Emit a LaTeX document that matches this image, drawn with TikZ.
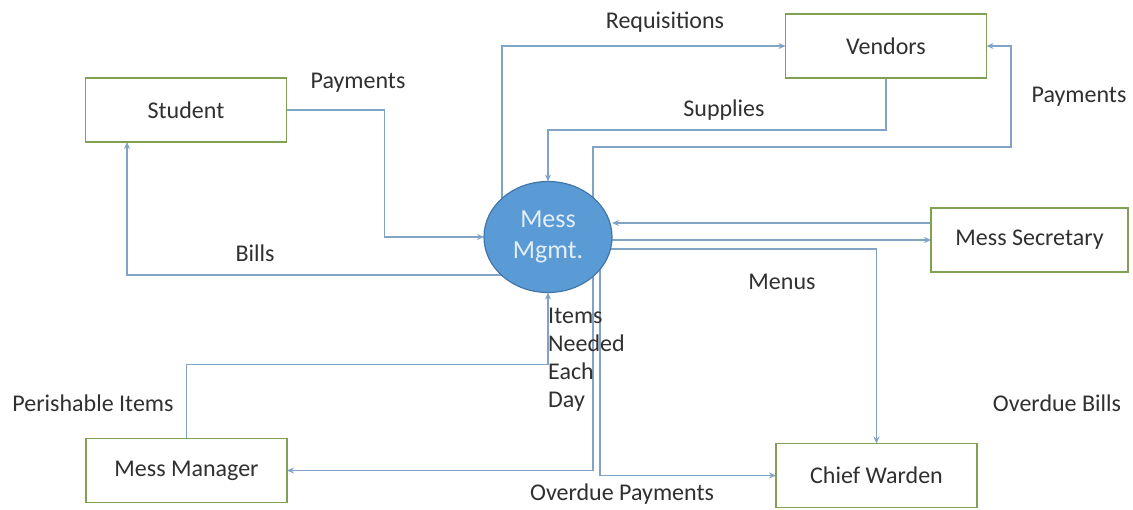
\documentclass[tikz,border=0pt]{standalone}
\usepackage{fontspec}
\setmainfont{Carlito}
\usetikzlibrary{positioning}
\usetikzlibrary{arrows.meta}
\usetikzlibrary{shapes.geometric}
\pgfdeclarelayer{background}
\pgfsetlayers{background,main}
\definecolor{boxline}{RGB}{128,160,82}
\definecolor{flowline}{RGB}{128,163,198}
\definecolor{ink}{RGB}{48,48,48}
\definecolor{procfill}{RGB}{91,155,213}
\definecolor{procline}{RGB}{66,118,168}
\tikzstyle{entitybox} = [draw=boxline, line width=1.4pt, minimum width=201pt, minimum height=64pt, inner sep=0pt, outer sep=0pt, text=ink]
\tikzstyle{flow} = [->, >={Stealth[length=7pt,width=6pt]}, draw=flowline, line width=1.8pt]
\tikzstyle{flowtext} = [text=ink, inner sep=0pt]

\begin{document}
\begin{tikzpicture}[x=1pt, y=-1pt, font=\fontsize{24}{28}\selectfont]
        \useasboundingbox (0,0) rectangle (1133,509);

        % the process in the middle
        \node[ellipse, fill=procfill, draw=procline, line width=1.2pt, minimum width=128pt, minimum height=111pt,
              inner sep=0pt, outer sep=0pt, align=center, text={rgb,255:red,228;green,238;blue,248},
              font=\fontsize{26}{31}\selectfont] (mess) at (548,237) {Mess\\Mgmt.};

        % external entities
        \node[entitybox] (student) at (186,110) {Student};
        \node[entitybox] (vendors) at (886,46) {Vendors};
        \node[entitybox, minimum width=197pt] (secretary) at (1029.5,240) {Mess Secretary};
        \node[entitybox] (manager) at (186.5,470.5) {Mess Manager};
        \node[entitybox] (warden) at (876.5,475.5) {Chief Warden};

        % flow names
        \node[flowtext] (requisitions) at (665,22) {Requisitions};
        \node[flowtext] (supplies) at (724,110) {Supplies};
        \node[flowtext] (vendorpay) at (1079,97) {Payments};
        \node[flowtext] (studentpay) at (358,83) {Payments};
        \node[flowtext] (bills) at (255,253) {Bills};
        \node[flowtext] (menus) at (782,282) {Menus};
        \node[flowtext] (overduebills) at (1057,403) {Overdue Bills};
        \node[flowtext] (perishable) at (93,403) {Perishable Items};
        \node[flowtext] (overduepay) at (622,494) {Overdue Payments};
        \node[flowtext, align=left, anchor=north west] (itemsneeded) at (548,308) {Items\\Needed\\Each\\Day};

        \begin{pgfonlayer}{background}
            \fill[white] (0,0) rectangle (1133,509);
            \draw[flow] ([xshift=-46pt]mess.center) |- (vendors.west);
            \draw[flow] (vendors.south) -- ++(0,52) -| (mess.north);
            \coordinate (payturn) at (1011,147);
            \draw[flow] ([xshift=45pt]mess.center) |- (payturn) |- (vendors.east);
            \draw[flow] (student.east) -- ++(98,0) |- (mess.west);
            \draw[flow] ([yshift=-38pt]mess.center) -| ([xshift=-59pt]student.south);
            \draw[flow] ([yshift=17pt]secretary.west) -- ([yshift=17pt]secretary.west -| mess.east);
            \draw[flow] (mess.center |- secretary.west) -- (secretary.west);
            \draw[flow] ([yshift=-12pt]mess.center) -| (warden.north);
            \draw[flow] ([xshift=45pt]mess.center) |- (manager.east);
            \draw[flow] ([xshift=52pt]mess.center) |- (warden.west);
            \draw[flow] (manager.north) -- ++(0,-74) -| (mess.south);
        \end{pgfonlayer}
\end{tikzpicture}
\end{document}
